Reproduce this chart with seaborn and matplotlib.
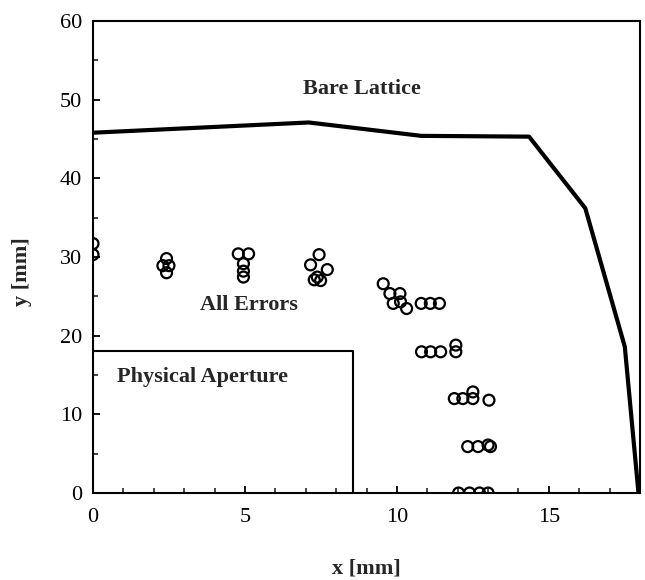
import matplotlib
matplotlib.use("Agg")
import matplotlib.pyplot as plt
from matplotlib.ticker import MultipleLocator
import numpy as np
import pandas as pd
import seaborn as sns

# ---- data ----
bare_x = [0.0, 7.1, 10.8, 14.35, 16.2, 17.5, 17.95]
bare_y = [45.8, 47.1, 45.4, 45.3, 36.2, 18.6, 0.0]

aperture_x = [0.0, 8.55, 8.55]
aperture_y = [18.1, 18.1, 0.0]

err_x = [0.0, 0.0,
         2.42, 2.30, 2.50, 2.42,
         4.78, 5.12, 4.95, 4.95, 4.95,
         7.44, 7.16, 7.71, 7.38, 7.49, 7.28,
         9.55, 9.77, 10.10, 9.88, 10.12, 10.32, 10.80, 11.10, 11.40,
         10.81, 11.11, 11.44, 11.94, 11.94,
         11.89, 12.17, 12.50, 12.50, 13.03,
         12.33, 12.67, 13.00, 13.08,
         12.03, 12.39, 12.72, 13.00]
err_y = [31.7, 30.3,
         29.8, 28.9, 28.9, 28.0,
         30.4, 30.4, 29.15, 28.2, 27.45,
         30.3, 29.0, 28.4, 27.45, 27.0, 27.1,
         26.6, 25.35, 25.35, 24.1, 24.3, 23.45, 24.1, 24.1, 24.1,
         17.95, 17.95, 17.95, 17.95, 18.8,
         12.0, 12.0, 12.0, 12.85, 11.8,
         5.9, 5.9, 6.1, 5.9,
         0.0, 0.0, 0.0, 0.0]

x_major = [0, 5, 10, 15]
y_major = [0, 10, 20, 30, 40, 50, 60]

# ---- style ----
sns.set_style("ticks")
plt.rcParams['font.family'] = ['Liberation Serif', 'DejaVu Serif']
plt.rcParams['axes.linewidth'] = 1.5

fig = plt.figure(figsize=(6.45, 5.8), dpi=100)
ax = fig.add_axes([93/645, 1-493/580, (640-93)/645, (493-21)/580])

bare = pd.DataFrame({"x": bare_x, "y": bare_y})
sns.lineplot(data=bare, x="x", y="y", sort=False, estimator=None,
             color="black", linewidth=3.0, ax=ax)

ap = pd.DataFrame({"x": aperture_x, "y": aperture_y})
sns.lineplot(data=ap, x="x", y="y", sort=False, estimator=None,
             color="black", linewidth=1.5, ax=ax)

errs = pd.DataFrame({"x": err_x, "y": err_y})
sns.scatterplot(data=errs, x="x", y="y", ax=ax, marker="o", s=62,
                facecolor="none", edgecolor="black", linewidth=1.6)

ax.set_xlim(0, 18)
ax.set_ylim(0, 60)
ax.set_xticks(x_major)
ax.set_yticks(y_major)
ax.xaxis.set_minor_locator(MultipleLocator(1))
ax.yaxis.set_minor_locator(MultipleLocator(5))
ax.tick_params(which="major", direction="in", length=5, width=1.3,
               labelsize=16, pad=8, colors="black")
ax.tick_params(which="minor", direction="in", length=3.5, width=1.2)
ax.tick_params(axis="x", pad=11)

for s in ax.spines.values():
    s.set_visible(True)
    s.set_color("black")
    s.set_linewidth(1.5)

ax.set_xlabel("x [mm]", fontsize=16, fontweight="bold")
ax.set_ylabel("y [mm]", fontsize=16, fontweight="bold")
ax.xaxis.set_label_coords(0.5, -0.138)
ax.yaxis.set_label_coords(-0.112, 0.47)

ax.text(6.9, 51.4, "Bare Lattice", fontsize=16, fontweight="bold",
        ha="left", va="center")
ax.text(3.52, 23.9, "All Errors", fontsize=16, fontweight="bold",
        ha="left", va="center")
ax.text(0.78, 14.8, "Physical Aperture", fontsize=16, fontweight="bold",
        ha="left", va="center")

fig.savefig("out.png", dpi=100)
